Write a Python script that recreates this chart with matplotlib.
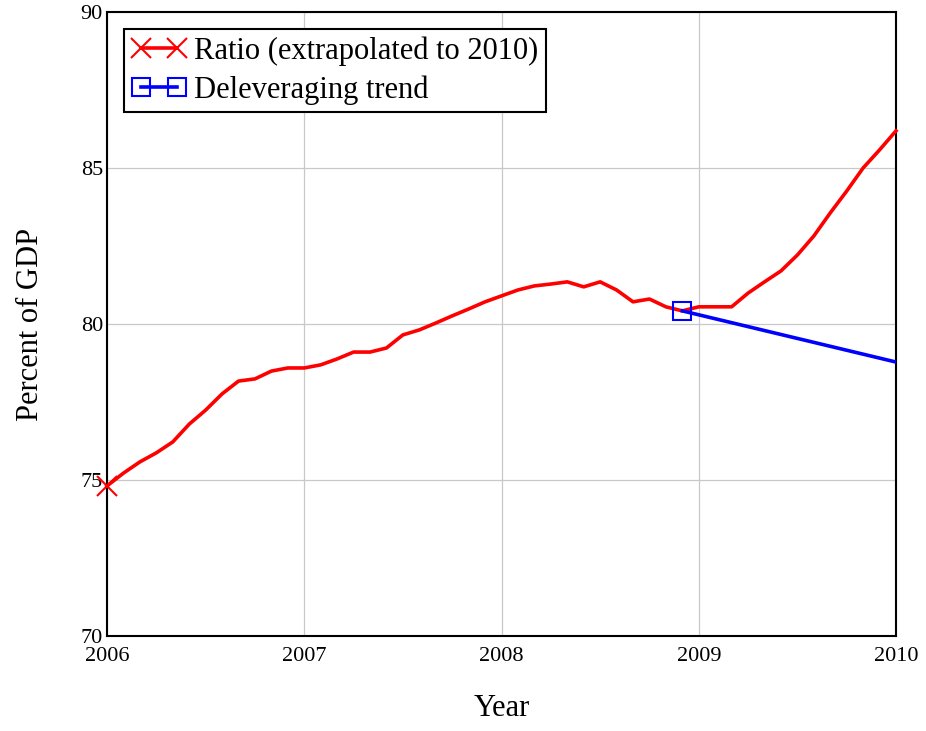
import numpy as np
import matplotlib
matplotlib.use("Agg")
import matplotlib.pyplot as plt

plt.rcParams['font.family'] = ['Liberation Serif', 'DejaVu Serif']

# monthly ratio, Jan 2006 .. Jan 2010 (percent of GDP)
ratio = [74.81, 75.22, 75.58, 75.87, 76.22, 76.79, 77.24, 77.76, 78.17, 78.24,
         78.49, 78.59, 78.59, 78.69, 78.88, 79.10, 79.10, 79.23, 79.65, 79.81,
         80.03, 80.26, 80.48, 80.71, 80.90, 81.09, 81.22, 81.28, 81.35, 81.19,
         81.35, 81.09, 80.71, 80.80, 80.55, 80.42, 80.55, 80.55, 80.55, 80.99,
         81.35, 81.70, 82.21, 82.82, 83.56, 84.26, 85.00, 85.58, 86.19]
ratio_years = 2006 + np.arange(len(ratio)) / 12.0

trend_years = [2008 + 11 / 12.0, 2010.0]
trend = [80.42, 78.78]

fig = plt.figure(figsize=(9.26, 7.31), dpi=100)
ax = fig.add_axes([0.1156, 0.130, 0.852, 0.8536])

ax.plot(ratio_years, ratio, color='red', lw=2.6, marker='x', ms=14, mew=1.5,
        markevery=[0], label='Ratio (extrapolated to 2010)', clip_on=False, zorder=3)
ax.plot(trend_years, trend, color='blue', lw=2.6, marker='s', ms=13, mew=1.5,
        mfc='none', markevery=[0], label='Deleveraging trend', zorder=4)

ax.set_xlim(2006, 2010)
ax.set_ylim(70, 90)
ax.set_xticks([2006, 2007, 2008, 2009, 2010])
ax.set_yticks([70, 75, 80, 85, 90])
ax.grid(True, color='#c8c8c8', lw=0.9)
ax.tick_params(length=0, labelsize=16)
ax.tick_params(axis='x', pad=8)
ax.tick_params(axis='y', pad=3)
for s in ax.spines.values():
    s.set_linewidth(1.5)

ax.set_xlabel('Year', fontsize=22, labelpad=20)
ax.set_ylabel('Percent of GDP', fontsize=22, labelpad=26)

leg = ax.legend(loc='upper left', fontsize=22, numpoints=2, fancybox=False,
                framealpha=1, edgecolor='black', borderpad=0.25, labelspacing=0.3,
                handlelength=1.8, handletextpad=0.25, borderaxespad=0.55)
leg.get_frame().set_linewidth(1.5)

fig.savefig('out.png', dpi=100)
